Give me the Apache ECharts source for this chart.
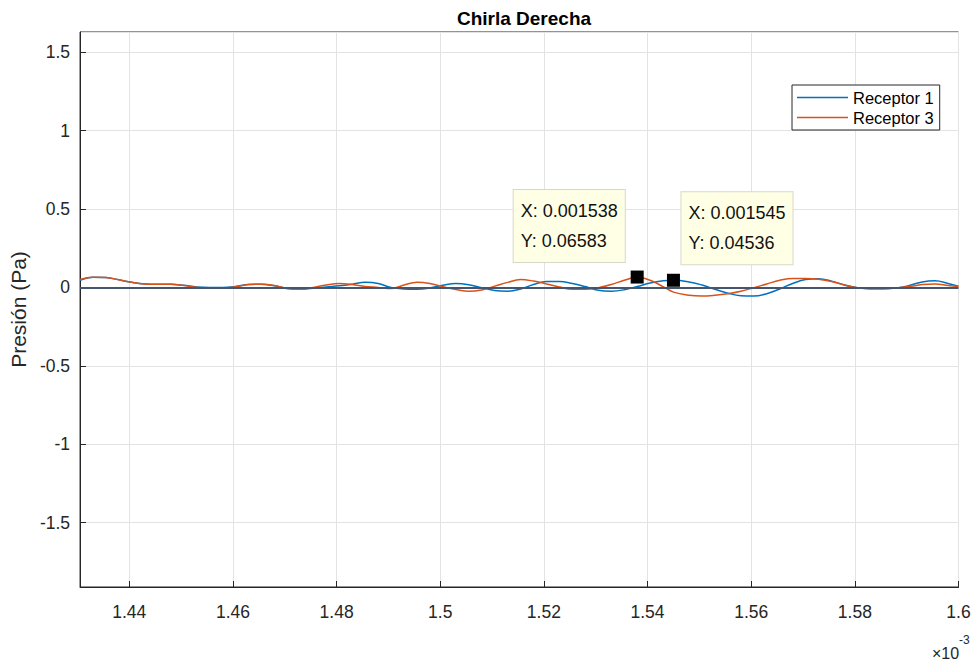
<!DOCTYPE html>
<html>
<head>
<meta charset="utf-8">
<script src="https://cdn.jsdelivr.net/npm/echarts@6/dist/echarts.min.js"></script>
<style>html,body{margin:0;padding:0;background:#fff}#c{width:976px;height:666px}</style>
</head>
<body>
<div id="c"></div>
<script>
// x in units of 1e-3 s
const xVals = [1.4305,1.4330,1.4355,1.4380,1.4405,1.4430,1.4455,1.4480,1.4505,1.4530,
1.4555,1.4580,1.4605,1.4630,1.4655,1.4680,1.4705,1.4730,1.4755,1.4780,
1.4805,1.4830,1.4855,1.4880,1.4905,1.4930,1.4955,1.4980,1.5005,1.5030,
1.5055,1.5080,1.5105,1.5130,1.5155,1.5180,1.5205,1.5230,1.5255,1.5280,
1.5305,1.5330,1.5355,1.5380,1.5405,1.5430,1.5450,1.5480,1.5505,1.5530,
1.5555,1.5580,1.5605,1.5630,1.5655,1.5680,1.5705,1.5730,1.5755,1.5780,
1.5805,1.5830,1.5855,1.5880,1.5905,1.5930,1.5955,1.5980,1.6000];
const receptor1 = [0.045,0.065,0.063,0.048,0.032,0.022,0.020,0.020,0.013,0.003,
0.000,0.000,0.006,0.018,0.020,0.010,-0.005,-0.010,-0.005,0.003,
0.010,0.020,0.032,0.025,0.000,-0.010,-0.012,-0.004,0.013,0.025,
0.017,-0.002,-0.020,-0.024,-0.010,0.018,0.038,0.038,0.025,0.005,
-0.018,-0.024,-0.015,0.005,0.028,0.042,0.04536,0.035,0.015,-0.012,
-0.037,-0.053,-0.055,-0.040,-0.010,0.025,0.050,0.055,0.040,0.015,
-0.002,-0.008,-0.009,-0.004,0.012,0.035,0.042,0.025,0.008];
const receptor3 = [0.050,0.065,0.063,0.048,0.032,0.022,0.020,0.020,0.012,0.000,
-0.006,-0.005,0.004,0.018,0.020,0.012,-0.008,-0.012,0.000,0.015,
0.024,0.018,0.006,0.000,-0.007,0.015,0.033,0.025,0.004,-0.013,
-0.025,-0.016,0.008,0.032,0.050,0.040,0.022,0.002,-0.012,-0.012,
-0.002,0.018,0.045,0.06583,0.045,0.005,-0.030,-0.050,-0.055,-0.050,
-0.040,-0.024,-0.002,0.022,0.045,0.057,0.057,0.052,0.038,0.015,
-0.002,-0.008,-0.008,-0.004,0.005,0.018,0.022,0.012,0.005];
const seriesNames = ['Receptor 1','Receptor 3'];
const tipX = [1.538, 1.545];
const tipY = [0.06583, 0.04536];
const xRange = [1.4305, 1.6];
const yRange = [-1.91, 1.628];

const FONT = '"Liberation Sans", Arial, sans-serif';
const ink = '#262626';
const pair = (ys) => xVals.map((x, i) => [x, ys[i]]);
const tipText = (i) => 'X: ' + (tipX[i] / 1000).toPrecision(4) + '\nY: ' + tipY[i].toPrecision(4);

const chart = echarts.init(document.getElementById('c'), null, {renderer: 'svg'});
chart.setOption({
  animation: false,
  backgroundColor: '#fff',
  title: {
    text: 'Chirla Derecha', left: 519, top: 4, textAlign: 'center',
    textStyle: {fontFamily: FONT, fontSize: 19, fontWeight: 'bold', color: '#000'}
  },
  grid: {left: 80, right: 17.5, top: 32, bottom: 79, show: true, borderColor: ink, borderWidth: 1, backgroundColor: '#fff'},
  legend: {
    data: seriesNames, orient: 'vertical', left: 792, top: 85,
    icon: 'rect', itemWidth: 51, itemHeight: 1.5, itemGap: 3,
    padding: [4, 6, 4, 5], borderColor: ink, borderWidth: 1, backgroundColor: '#fff',
    textStyle: {fontFamily: FONT, fontSize: 16.5, color: '#000'}
  },
  xAxis: {
    type: 'value', min: xRange[0], max: xRange[1], splitNumber: 8,
    axisLine: {show: true, onZero: false, lineStyle: {color: ink}},
    axisTick: {show: true, inside: true, length: 6, lineStyle: {color: ink}},
    axisLabel: {fontFamily: FONT, fontSize: 17.5, color: ink, margin: 16, showMinLabel: false},
    splitLine: {show: true, lineStyle: {color: '#e3e3e3'}}
  },
  yAxis: {
    type: 'value', min: yRange[0], max: yRange[1], splitNumber: 7,
    name: 'Presión (Pa)', nameLocation: 'middle', nameGap: 50, nameRotate: 90,
    nameTextStyle: {fontFamily: FONT, fontSize: 21, color: ink},
    axisLine: {show: true, lineStyle: {color: ink}},
    axisTick: {show: true, inside: true, length: 6, lineStyle: {color: ink}},
    axisLabel: {fontFamily: FONT, fontSize: 17.5, color: ink, margin: 10, showMinLabel: false, showMaxLabel: false},
    splitLine: {show: true, lineStyle: {color: '#e3e3e3'}}
  },
  series: [
    {
      name: seriesNames[0], type: 'line', data: pair(receptor1), smooth: 0.4, showSymbol: false,
      lineStyle: {color: '#0072BD', width: 1.5}, itemStyle: {color: '#0072BD'}, z: 3,
      markLine: {
        silent: true, symbol: 'none', label: {show: false},
        lineStyle: {color: '#45556f', width: 2, type: 'solid'},
        data: [{yAxis: 0}]
      }
    },
    {
      name: seriesNames[1], type: 'line', data: pair(receptor3), smooth: 0.4, showSymbol: false,
      lineStyle: {color: '#D95319', width: 1.5}, itemStyle: {color: '#D95319'}, z: 3
    },
    {
      type: 'scatter', z: 5, symbol: 'rect', symbolSize: 13, itemStyle: {color: '#000', opacity: 1},
      data: [
        {value: [tipX[0], tipY[0]], label: {show: true, formatter: tipText(0), position: [-117, -8.5], align: 'left', verticalAlign: 'bottom'}},
        {value: [tipX[1], tipY[1]], label: {show: true, formatter: tipText(1), position: [14.5, -9.5], align: 'left', verticalAlign: 'bottom'}}
      ],
      label: {
        fontFamily: FONT, fontSize: 18, color: '#111', lineHeight: 30,
        backgroundColor: '#FFFFE6', borderColor: '#d8d8c8', borderWidth: 1, padding: [6, 7, 6, 7]
      }
    }
  ],
  graphic: [
    {type: 'text', left: 932, top: 645, style: {text: '×10', fontFamily: FONT, fontSize: 16, fill: ink}},
    {type: 'text', left: 959, top: 634, style: {text: '-3', fontFamily: FONT, fontSize: 12, fill: ink}}
  ]
});
</script>
</body>
</html>
